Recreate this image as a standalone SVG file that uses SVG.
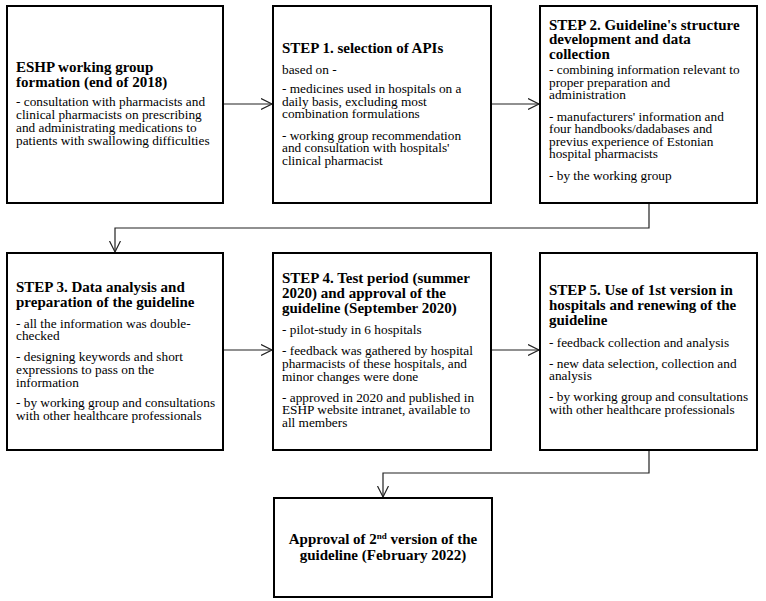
<svg xmlns="http://www.w3.org/2000/svg" width="766" height="601" viewBox="0 0 766 601">
<style>
.box{fill:#fff;stroke:#000;stroke-width:2}
.t{font-family:"Liberation Serif","Times New Roman",serif;font-size:15px;font-weight:bold;fill:#000}
.b{font-family:"Liberation Serif","Times New Roman",serif;font-size:13.3px;fill:#000}
.c{fill:none;stroke:#222;stroke-width:1.2}
</style>
<defs>
<marker id="ah" markerUnits="userSpaceOnUse" markerWidth="14" markerHeight="14" refX="11" refY="6" orient="auto">
<path d="M0,0.5 L11,6 L0,11.5" fill="none" stroke="#222" stroke-width="1.2"/>
</marker>
</defs>
<rect width="766" height="601" fill="#fff"/>
<g id="connectors">
<path class="c" d="M223,104 H272" marker-end="url(#ah)"/>
<path class="c" d="M491,104 H539" marker-end="url(#ah)"/>
<path class="c" d="M649,203 V228 H115 V252" marker-end="url(#ah)"/>
<path class="c" d="M223,350 H272" marker-end="url(#ah)"/>
<path class="c" d="M491,350 H539" marker-end="url(#ah)"/>
<path class="c" d="M649,450 V473 H383 V497" marker-end="url(#ah)"/>
</g>
<g id="node-eshp">
<rect class="box" x="7" y="6" width="216" height="197"/>
<text class="t" x="16" y="72">ESHP working group</text>
<text class="t" x="16" y="87">formation (end of 2018)</text>
<text class="b" x="16" y="106">- consultation with pharmacists and</text>
<text class="b" x="16" y="119">clinical pharmacists on prescribing</text>
<text class="b" x="16" y="132">and administrating medications to</text>
<text class="b" x="16" y="145">patients with swallowing difficulties</text>
</g>
<g id="node-step1">
<rect class="box" x="273" y="6" width="218" height="197"/>
<text class="t" x="282" y="53">STEP 1. selection of APIs</text>
<text class="b" x="282" y="74">based on -</text>
<text class="b" x="282" y="93">- medicines used in hospitals on a</text>
<text class="b" x="282" y="106">daily basis, excluding most</text>
<text class="b" x="282" y="118">combination formulations</text>
<text class="b" x="282" y="140">- working group recommendation</text>
<text class="b" x="282" y="152">and consultation with hospitals'</text>
<text class="b" x="282" y="165">clinical pharmacist</text>
</g>
<g id="node-step2">
<rect class="box" x="540" y="6" width="217" height="197"/>
<text class="t" x="549" y="30">STEP 2. Guideline's structure</text>
<text class="t" x="549" y="44">development and data</text>
<text class="t" x="549" y="59">collection</text>
<text class="b" x="549" y="74">- combining information relevant to</text>
<text class="b" x="549" y="87">proper preparation and</text>
<text class="b" x="549" y="99">administration</text>
<text class="b" x="549" y="121">- manufacturers' information and</text>
<text class="b" x="549" y="133">four handbooks/dadabases and</text>
<text class="b" x="549" y="146">previus experience of Estonian</text>
<text class="b" x="549" y="158">hospital pharmacists</text>
<text class="b" x="549" y="180">- by the working group</text>
</g>
<g id="node-step3">
<rect class="box" x="7" y="253" width="216" height="197"/>
<text class="t" x="16" y="292">STEP 3. Data analysis and</text>
<text class="t" x="16" y="307">preparation of the guideline</text>
<text class="b" x="16" y="328">- all the information was double-</text>
<text class="b" x="16" y="340">checked</text>
<text class="b" x="16" y="361">- designing keywords and short</text>
<text class="b" x="16" y="374">expressions to pass on the</text>
<text class="b" x="16" y="387">information</text>
<text class="b" x="16" y="407">- by working group and consultations</text>
<text class="b" x="16" y="420">with other healthcare professionals</text>
</g>
<g id="node-step4">
<rect class="box" x="273" y="253" width="218" height="197"/>
<text class="t" x="282" y="283">STEP 4. Test period (summer</text>
<text class="t" x="282" y="298">2020) and approval of the</text>
<text class="t" x="282" y="313">guideline (September 2020)</text>
<text class="b" x="282" y="334">- pilot-study in 6 hospitals</text>
<text class="b" x="282" y="355">- feedback was gathered by hospital</text>
<text class="b" x="282" y="368">pharmacists of these hospitals, and</text>
<text class="b" x="282" y="381">minor changes were done</text>
<text class="b" x="282" y="402">- approved in 2020 and published in</text>
<text class="b" x="282" y="414">ESHP website intranet, available to</text>
<text class="b" x="282" y="427">all members</text>
</g>
<g id="node-step5">
<rect class="box" x="540" y="253" width="217" height="197"/>
<text class="t" x="549" y="295">STEP 5. Use of 1st version in</text>
<text class="t" x="549" y="310">hospitals and renewing of the</text>
<text class="t" x="549" y="325">guideline</text>
<text class="b" x="549" y="347">- feedback collection and analysis</text>
<text class="b" x="549" y="368">- new data selection, collection and</text>
<text class="b" x="549" y="380">analysis</text>
<text class="b" x="549" y="401">- by working group and consultations</text>
<text class="b" x="549" y="414">with other healthcare professionals</text>
</g>
<g id="node-approval">
<rect class="box" x="274" y="498" width="218" height="99"/>
<text class="t" x="383" y="544" text-anchor="middle">Approval of 2<tspan font-size="9" dy="-5">nd</tspan><tspan dy="5"> version of the</tspan></text>
<text class="t" x="383" y="560" text-anchor="middle">guideline (February 2022)</text>
</g>
</svg>
